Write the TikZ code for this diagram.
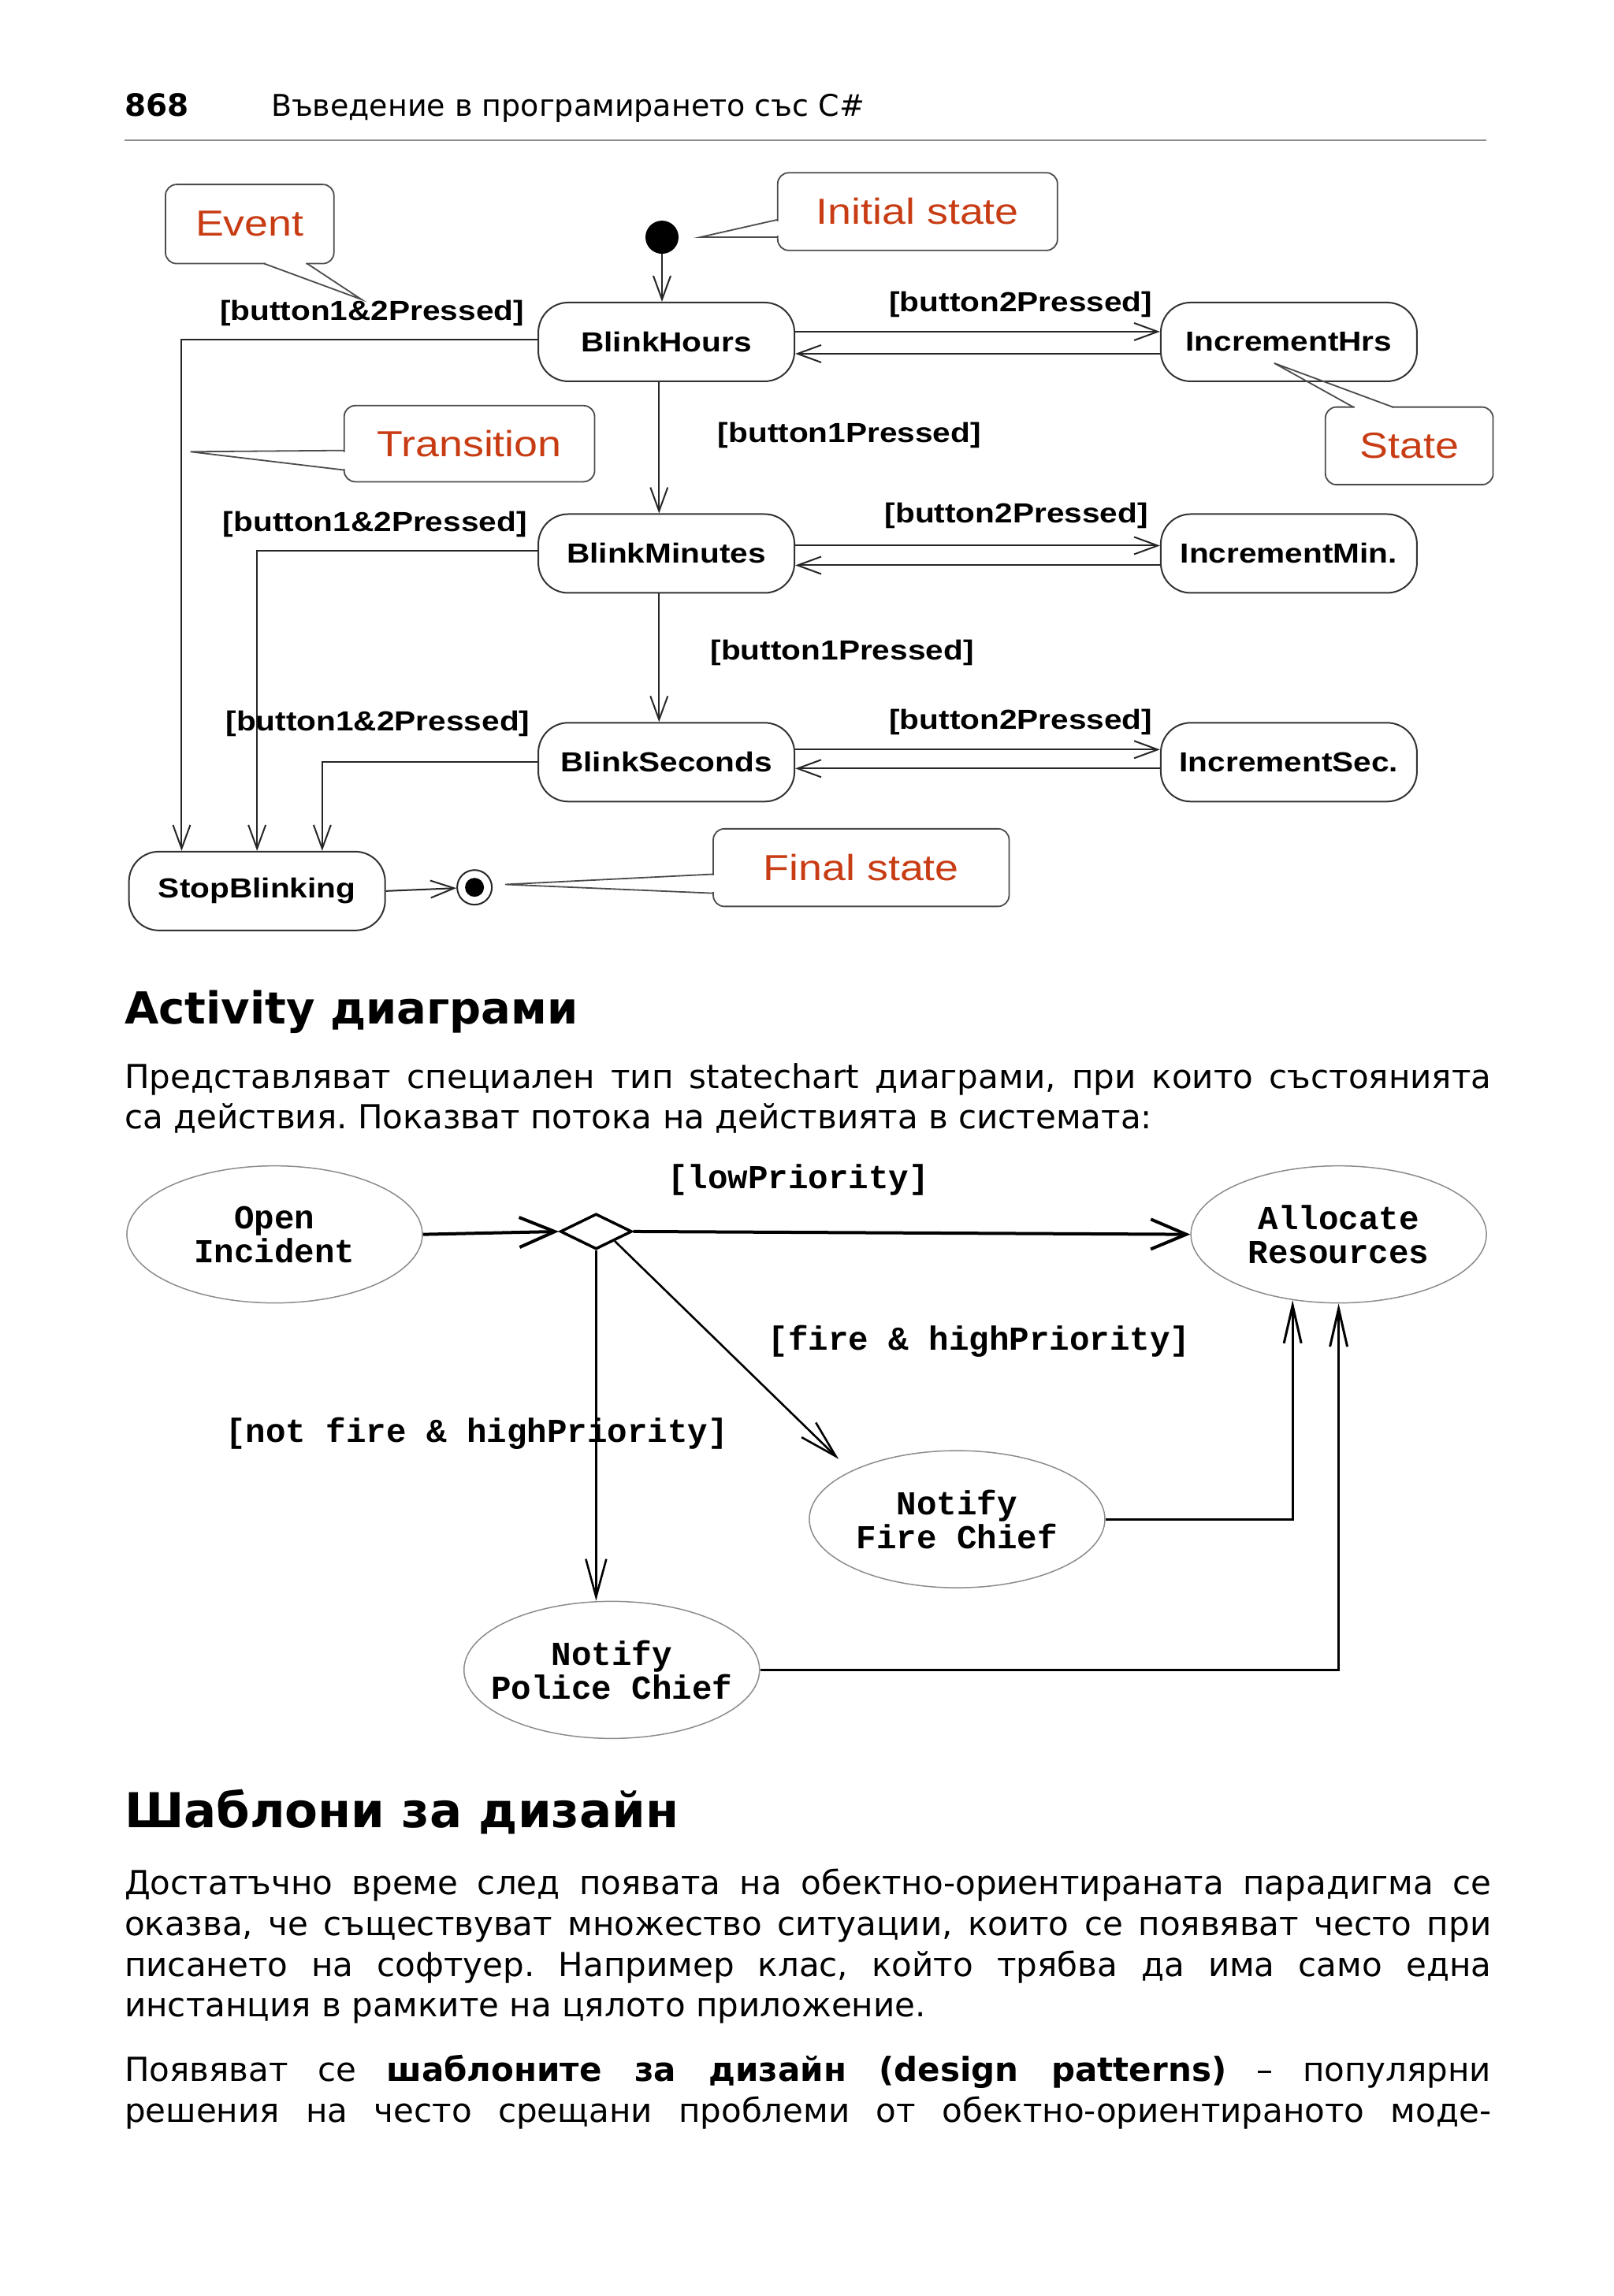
\documentclass[tikz,border=0pt]{standalone}
\usepackage{fontspec}
\setmainfont{DejaVu Sans}
\newfontfamily\arialf{Liberation Sans}
\newfontfamily\courf{Liberation Mono}
\usetikzlibrary{arrows.meta,shapes.geometric}
\definecolor{callred}{RGB}{200,60,20}
\newcommand{\sxs}[1]{\scalebox{1.16}[1]{#1}}
\newcommand{\sxc}[1]{\scalebox{1.17}[1]{#1}}
\newcommand{\jl}[1]{\makebox[1733.9pt][s]{#1}}
\begin{document}
\frenchspacing
\begin{tikzpicture}[x=1.8584pt,y=-1.8584pt,
  stbox/.style={draw=black!80, line width=2pt, rounded corners=38pt, minimum width=325pt, minimum height=100pt, inner sep=0pt, fill=white, font=\arialf\bfseries\fontsize{35}{40}\selectfont},
  lab/.style={inner sep=0pt, font=\arialf\bfseries\fontsize{35}{40}\selectfont},
  callbox/.style={draw=black!70, line width=1.8pt, rounded corners=14pt, fill=white, inner sep=0pt, text=callred, font=\arialf\fontsize{46}{50}\selectfont},
  wedge/.style={draw=black!70, line width=1.8pt},
  sarrow/.style={draw=black!85, line width=2pt, -{Straight Barb[length=30pt,width=22pt]}},
  actst/.style={ellipse, draw=black!45, line width=1.5pt, minimum width=375pt, minimum height=174pt, inner xsep=-30pt, inner ysep=0pt, align=center, font=\courf\bfseries\fontsize{42.5}{43}\selectfont},
  actlab/.style={inner sep=0pt, font=\courf\bfseries\fontsize{42.5}{43}\selectfont},
  thickarr/.style={line width=4pt, -{Straight Barb[length=45pt,width=38pt]}},
  thinarr/.style={line width=2.6pt, -{Straight Barb[length=48pt,width=26pt]}},
  uparr/.style={line width=3pt, -{Straight Barb[length=48pt,width=22pt]}},
  body/.style={anchor=base west, inner sep=0pt, font=\fontsize{42}{50}\selectfont},
]
\fill[white] (0,0) rectangle (1102,1568);
\useasboundingbox (0,0) rectangle (1102,1568);

% header
\node[anchor=base west, inner sep=0pt, font=\bfseries\fontsize{39}{46}\selectfont] (pnum) at (85,79.1) {868};
\node[anchor=base west, inner sep=0pt, font=\fontsize{38}{46}\selectfont] (ptitle) at (185,79.1) {Въведение в програмирането със C\#};
\draw[black!45, line width=2pt] (85,96) -- (1015,96);

% ---------- state diagram ----------
\node[stbox] (bh) at (455,233.5) {\sxs{BlinkHours}};
\node[stbox] (ih) at (880,233.5) {\sxs{IncrementHrs}};
\node[stbox] (bm) at (455,378) {\sxs{BlinkMinutes}};
\node[stbox] (im) at (880,378) {\sxs{IncrementMin.}};
\node[stbox] (bs) at (455,520.5) {\sxs{BlinkSeconds}};
\node[stbox] (is) at (880,520.5) {\sxs{IncrementSec.}};
\node[stbox] (sb) at (175.5,608.5) {\sxs{StopBlinking}};

\node[circle, fill=black, minimum size=42pt, inner sep=0pt] (init) at (452,162) {};
\node[circle, draw=black!85, line width=2pt, minimum size=44pt, inner sep=0pt,
      path picture={\fill[black] (path picture bounding box.center) circle (12pt);}] (fin) at (324,606) {};

\draw[sarrow] (init) -- (init |- bh.north);
\draw[sarrow] ([yshift=13pt]bh.east) -- ([yshift=13pt]ih.west);
\draw[sarrow] ([yshift=-15pt]ih.west) -- ([yshift=-15pt]bh.east);
\draw[sarrow] ([yshift=10pt]bm.east) -- ([yshift=10pt]im.west);
\draw[sarrow] ([yshift=-15pt]im.west) -- ([yshift=-15pt]bm.east);
\draw[sarrow] ([yshift=16pt]bs.east) -- ([yshift=16pt]is.west);
\draw[sarrow] ([yshift=-8pt]is.west) -- ([yshift=-8pt]bs.east);
\draw[sarrow] ([xshift=-9.3pt]bh.south) -- ([xshift=-9.3pt]bm.north);
\draw[sarrow] ([xshift=-9.3pt]bm.south) -- ([xshift=-9.3pt]bs.north);
\draw[sarrow] ([yshift=3pt]bh.west) -| ([xshift=-95.7pt]sb.north);
\draw[sarrow] ([yshift=3pt]bm.west) -| (sb.north);
\draw[sarrow] (bs.west) -| ([xshift=82.7pt]sb.north);
\draw[sarrow] (sb.east) -- (fin);

\node[lab] (l1) at (254,214) {\sxs{[button1\&2Pressed]}};
\node[lab] (l2) at (697,208) {\sxs{[button2Pressed]}};
\node[lab] (l3) at (580,297) {\sxs{[button1Pressed]}};
\node[lab] (l4) at (256,358) {\sxs{[button1\&2Pressed]}};
\node[lab] (l5) at (694,352) {\sxs{[button2Pressed]}};
\node[lab] (l6) at (575,446) {\sxs{[button1Pressed]}};
\node[lab] (l7) at (258,494) {\sxs{[button1\&2Pressed]}};
\node[lab] (l8) at (697,493) {\sxs{[button2Pressed]}};

% callouts
\node[callbox, minimum width=213.7pt, minimum height=100.4pt] (cev) at (170.5,153) {\sxc{Event}};
\coordinate (evtip) at (246.8,204.5);
\fill[white] (181.3,178.3) rectangle (208.7,181.7);
\draw[wedge] (180.3,180) -- (evtip) -- (209.7,180);

\node[callbox, minimum width=355pt, minimum height=98.5pt] (cinit) at (626.5,144.5) {\sxc{Initial state}};
\coordinate (inittip) at (478,162);
\fill[white] (529.3,151) rectangle (532.7,161);
\draw[wedge] (531,150) -- (inittip) -- (531,162);

\node[callbox, minimum width=317.8pt, minimum height=96.6pt] (ctr) at (320.5,303) {\sxc{Transition}};
\coordinate (trtip) at (130,308.5);
\fill[white] (233.3,308.6) rectangle (236.7,320);
\draw[wedge] (235,307.6) -- (trtip) -- (235,321);

\node[callbox, minimum width=212.8pt, minimum height=98.5pt] (cst) at (962.2,304.5) {\sxc{State}};
\coordinate (sttip) at (870,248);
\fill[white] (925,276.3) rectangle (950,279.7);
\draw[wedge] (924,278) -- (sttip) -- (951,278);

\node[callbox, minimum width=375.4pt, minimum height=98.5pt] (cfin) at (588,592.5) {\sxc{Final state}};
\coordinate (fintip) at (345,604);
\fill[white] (485.3,598) rectangle (488.7,609);
\draw[wedge] (487,597) -- (fintip) -- (487,610);

% ---------- text ----------
\node[anchor=base west, inner sep=0pt, font=\bfseries\fontsize{56}{64}\selectfont] (h1) at (85,699.5) {Activity диаграми};
\node[body] (t1) at (85,743.6) {\jl{Представляват специален тип statechart диаграми, при които състоянията}};
\node[body] (t2) at (85,771) {са действия. Показват потока на действията в системата:};

% ---------- activity diagram ----------
\node[actst] (open) at (187.5,843) {Open\\Incident};
\node[actst] (alloc) at (914,843) {Allocate\\Resources};
\node[actst] (fire) at (653.5,1037.5) {Notify\\Fire Chief};
\node[actst] (police) at (417.7,1140.4) {Notify\\Police Chief};
\node[diamond, draw, line width=3.5pt, minimum width=91pt, minimum height=45pt, inner sep=0pt] (dec) at (407,841) {};

\coordinate (firetip) at (572.6,996.4);
\draw[thickarr] (open.east) -- (dec.west);
\draw[thickarr] (dec.east) -- (alloc.west);
\draw[thinarr] (dec.south east) -- (firetip);
\draw[thinarr] (dec.south) -- (dec.south |- police.north);
\draw[uparr] (fire.east) -| (alloc.235.7);
\draw[uparr] (police.east) -| (alloc.south);

\node[actlab] (al1) at (545,806) {[lowPriority]};
\node[actlab] (al2) at (668.5,916) {[fire \& highPriority]};
\node[actlab] (al3) at (325.5,979) {[not fire \& highPriority]};

% ---------- bottom text ----------
\node[anchor=base west, inner sep=0pt, font=\bfseries\fontsize{61}{70}\selectfont] (h2) at (85,1248) {Шаблони за дизайн};
\node[body] (p1) at (85,1294) {\jl{Достатъчно време след появата на обектно-ориентираната парадигма се}};
\node[body] (p2) at (85,1321.8) {\jl{оказва, че съществуват множество ситуации, които се появяват често при}};
\node[body] (p3) at (85,1349.6) {\jl{писането на софтуер. Например клас, който трябва да има само една}};
\node[body] (p4) at (85,1377.4) {инстанция в рамките на цялото приложение.};
\node[body] (q1) at (85,1421.5) {\jl{Появяват се \textbf{шаблоните за дизайн (design patterns)} – популярни}};
\node[body] (q2) at (85,1449.3) {\jl{решения на често срещани проблеми от обектно-ориентираното моде-}};
\end{tikzpicture}
\end{document}
